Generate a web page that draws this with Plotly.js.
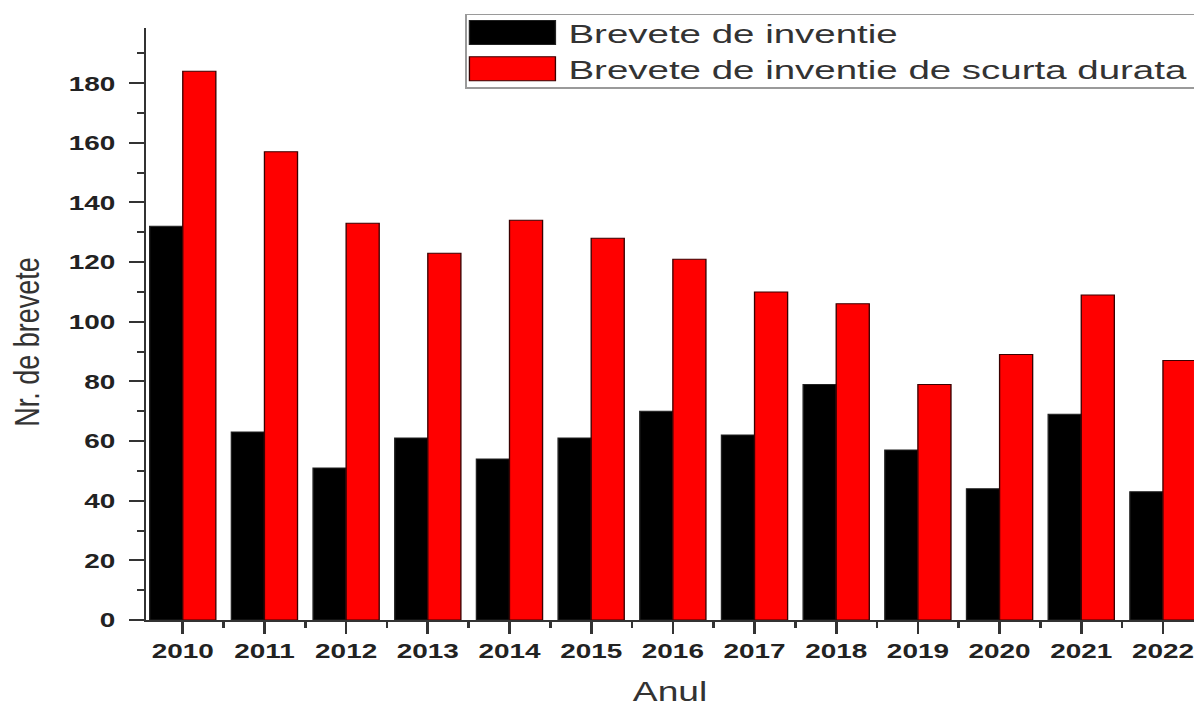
<!DOCTYPE html>
<html>
<head>
<meta charset="utf-8">
<script src="https://cdn.plot.ly/plotly-3.0.1.min.js"></script>
<style>
html, body { margin: 0; padding: 0; overflow: hidden; background: #fff; }
#chart { width: 898px; height: 708px; transform: scaleX(1.3296); transform-origin: 0 0; }
#chart .legend text.legendtext { transform-box: fill-box; transform-origin: 0 50%; transform: scaleX(1.135); }
#chart .g-ytitle { transform: translateY(18px); }
</style>
</head>
<body>
<div id="chart"></div>
<script>
// ---- data ----
const years = [2010, 2011, 2012, 2013, 2014, 2015, 2016, 2017, 2018, 2019, 2020, 2021, 2022];
const breveteInventie = [132, 63, 51, 61, 54, 61, 70, 62, 79, 57, 44, 69, 43];
const breveteScurtaDurata = [184, 157, 133, 123, 134, 128, 121, 110, 106, 79, 89, 109, 87];
const seriesNames = ['Brevete de inventie', 'Brevete de inventie de scurta durata'];
const yTickVals = [0, 20, 40, 60, 80, 100, 120, 140, 160, 180];
const xTickText = years.map(String);

const FONT = 'Liberation Sans, Arial, Helvetica, sans-serif';

const traces = [
  {
    type: 'bar', name: seriesNames[0], x: years, y: breveteInventie,
    marker: { color: '#000000', line: { color: '#222', width: 1 } },
    hoverinfo: 'x+y+name'
  },
  {
    type: 'bar', name: seriesNames[1], x: years, y: breveteScurtaDurata,
    marker: { color: '#ff0000', line: { color: '#3a0000', width: 1 } },
    hoverinfo: 'x+y+name'
  }
];

const layout = {
  width: 898, height: 708,
  margin: { l: 110, r: 0, t: 28, b: 88, autoexpand: false },
  paper_bgcolor: '#ffffff', plot_bgcolor: '#ffffff',
  barmode: 'group', bargap: 0.19, bargroupgap: 0,
  font: { family: FONT, color: '#222' },
  showlegend: true,
  legend: {
    x: 0.3046, y: 1.0338, xanchor: 'left', yanchor: 'top',
    bgcolor: '#ffffff', bordercolor: '#9a9a9a', borderwidth: 1.5,
    font: { family: FONT, size: 25.5, color: '#333' },
    itemwidth: 66, tracegroupgap: 0
  },
  xaxis: {
    range: [2009.553, 2022.38],
    tickmode: 'array', tickvals: years, ticktext: xTickText,
    ticklabeloverflow: 'allow',
    showgrid: false, zeroline: false,
    showline: true, linecolor: '#333', linewidth: 2,
    ticks: 'outside', ticklen: 12, tickwidth: 1.5, tickcolor: '#333',
    ticklabelstandoff: -1,
    tickfont: { family: FONT, size: 21, weight: 'bold', color: '#222' },
    minor: { tick0: 2010.5, dtick: 1, ticks: 'outside', ticklen: 6, tickwidth: 1.5, tickcolor: '#333', showgrid: false },
    title: { text: 'Anul', font: { family: FONT, size: 28, color: '#333' }, standoff: 20 }
  },
  yaxis: {
    range: [0, 198.5],
    tickmode: 'array', tickvals: yTickVals,
    showgrid: false, zeroline: false,
    showline: true, linecolor: '#333', linewidth: 2,
    ticks: 'outside', ticklen: 11, tickwidth: 1.5, tickcolor: '#333',
    ticklabelstandoff: 6,
    tickfont: { family: FONT, size: 21, weight: 'bold', color: '#222' },
    minor: { tick0: 0, dtick: 10, ticks: 'outside', ticklen: 5, tickwidth: 1.5, tickcolor: '#333', showgrid: false },
    title: { text: 'Nr. de brevete', font: { family: FONT, size: 27, color: '#333' }, standoff: 14 }
  }
};

Plotly.newPlot('chart', traces, layout, { displayModeBar: false, responsive: false }).then(function (gd) {
  const s = 1.3296;
  // the reference legend box runs past the right edge of the picture and is tight vertically
  const bg = gd.querySelector('.legend rect.bg');
  if (bg) {
    bg.setAttribute('width', String(parseFloat(bg.getAttribute('width')) + 120));
    const by = parseFloat(bg.getAttribute('y') || '0');
    bg.setAttribute('y', String(by + 6));
    bg.setAttribute('height', String(parseFloat(bg.getAttribute('height')) - 11));
  }
  const sb = gd.querySelector('.legend .scrollbox');
  if (sb) sb.removeAttribute('clip-path');
  // enlarge legend swatches to the wide rectangles of the reference
  gd.querySelectorAll('.legend .traces').forEach(function (item) {
    const text = item.querySelector('text.legendtext');
    const path = item.querySelector('.legendpoints path');
    if (!text || !path) return;
    const tr = text.getBoundingClientRect();
    const pr = path.getBoundingClientRect();
    const cx = (pr.left + pr.right) / 2;
    const left = (tr.left - 99 - cx) / s;
    const right = (tr.left - 13 - cx) / s;
    path.setAttribute('d', 'M' + left + ',12H' + right + 'V-12H' + left + 'Z');
  });
});
</script>
</body>
</html>
